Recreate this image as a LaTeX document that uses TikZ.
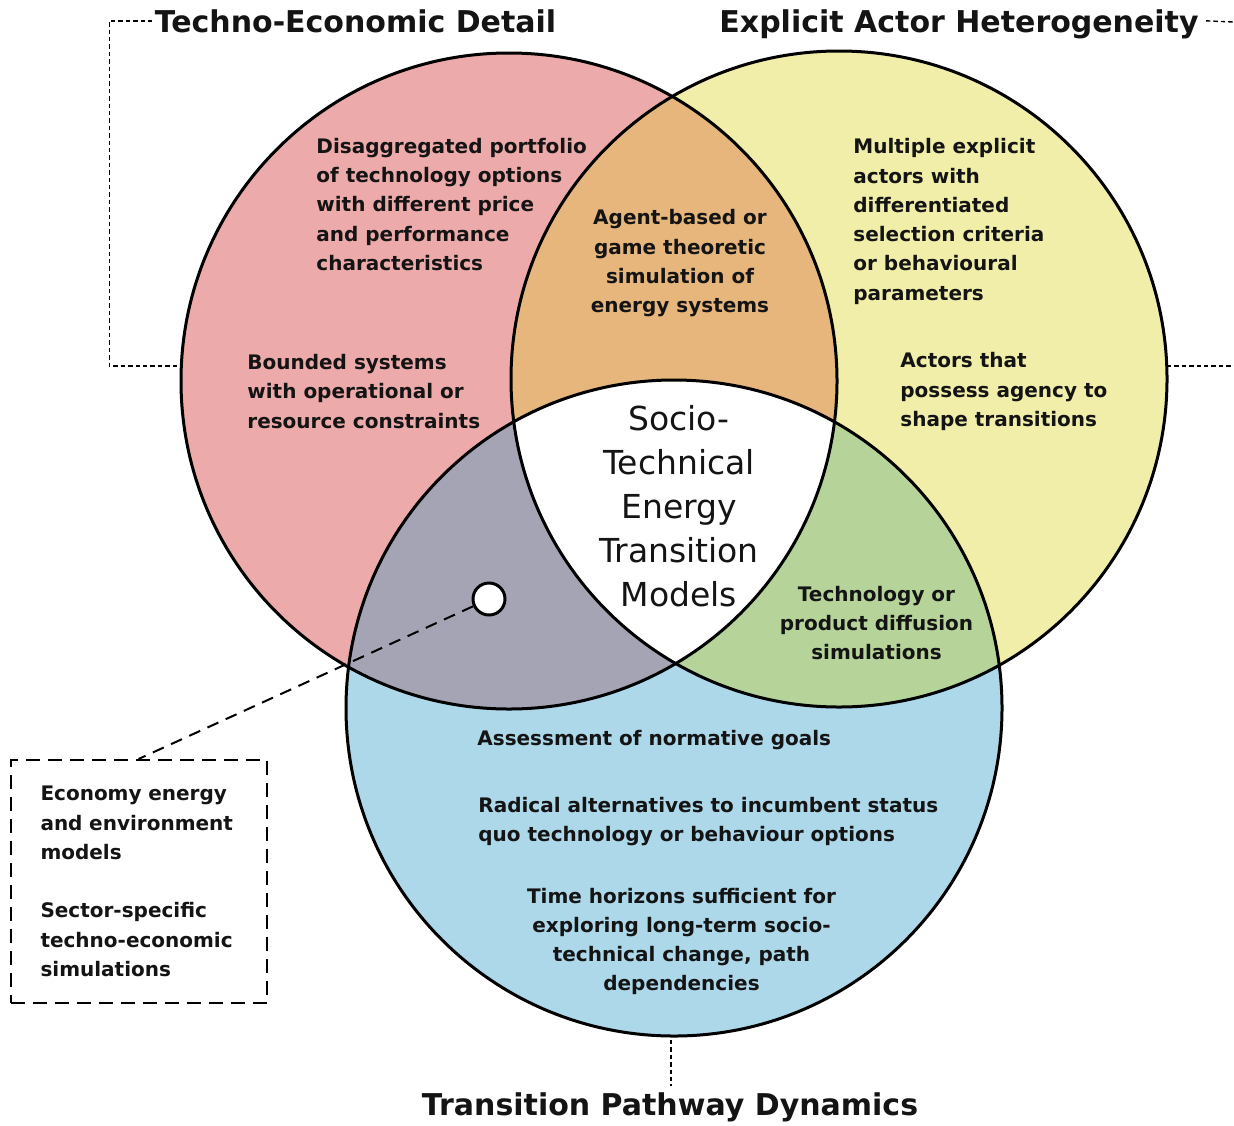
\documentclass[tikz,border=0pt]{standalone}
\usepackage{fontspec}
\setmainfont{DejaVu Sans}
\definecolor{redfill}{HTML}{EDAAAA}
\definecolor{yelfill}{HTML}{F1EEAA}
\definecolor{bluefill}{HTML}{ADD8EA}
\definecolor{orangefill}{HTML}{E6B67C}
\definecolor{greyfill}{HTML}{A4A4B4}
\definecolor{greenfill}{HTML}{B6D49A}
\definecolor{ink}{HTML}{141414}
\def\vennr{164pt}
\begin{document}
\begin{tikzpicture}[x=0.5pt,y=-0.5pt,
  body/.style={font=\bfseries\fontsize{10}{14.65}\selectfont, inner sep=0pt, text=ink},
  lefttext/.style={body, align=left, anchor=west},
  midtext/.style={body, align=center},
  core/.style={font=\fontsize{16.5}{22}\selectfont, inner sep=0pt, align=center, text=ink},
  heading/.style={font=\bfseries\fontsize{15}{18}\selectfont, inner sep=0pt, anchor=base, text=ink},
  outline/.style={draw=black, line width=1.5pt},
  guide/.style={draw=black, line width=0.7pt, dash pattern=on 2.2pt off 1.5pt},
  leader/.style={draw=black, line width=1pt, dash pattern=on 6pt off 4pt},
]
\useasboundingbox (0,0) rectangle (1234,1125);
\fill[white] (0,0) rectangle (1234,1125);

% circle centres
\coordinate (cr) at (509,381);
\coordinate (cy) at (839,379);
\coordinate (cb) at (674,708);

% base fills
\fill[redfill] (cr) circle[radius=\vennr];
\fill[yelfill] (cy) circle[radius=\vennr];
\fill[bluefill] (cb) circle[radius=\vennr];

% pairwise overlaps
\begin{scope}
  \clip (cr) circle[radius=\vennr];
  \fill[orangefill] (cy) circle[radius=\vennr];
  \fill[greyfill] (cb) circle[radius=\vennr];
\end{scope}
\begin{scope}
  \clip (cy) circle[radius=\vennr];
  \fill[greenfill] (cb) circle[radius=\vennr];
\end{scope}
% triple overlap
\begin{scope}
  \clip (cr) circle[radius=\vennr];
  \clip (cy) circle[radius=\vennr];
  \fill[white] (cb) circle[radius=\vennr];
\end{scope}

% outlines
\draw[outline] (cr) circle[radius=\vennr];
\draw[outline] (cy) circle[radius=\vennr];
\draw[outline] (cb) circle[radius=\vennr];

% region texts
\node[lefttext] (tech1) at (316,204.5) {Disaggregated portfolio\\of technology options\\with different price\\and performance\\characteristics};
\node[lefttext] (tech2) at (247,391.5) {Bounded systems\\with operational or\\resource constraints};
\node[midtext] (agent) at (680,263.5) {Agent-based or\\game theoretic\\simulation of\\energy systems};
\node[lefttext] (actor1) at (853,221.5) {Multiple explicit\\actors with\\differentiated\\selection criteria\\or behavioural\\parameters};
\node[lefttext] (actor2) at (900,391.5) {Actors that\\possess agency to\\shape transitions};
\node[core] (core) at (679,506) {Socio-\\Technical\\Energy\\Transition\\Models};
\node[midtext] (diff) at (876.5,623) {Technology or\\product diffusion\\simulations};
\node[lefttext] (path1) at (477,740) {Assessment of normative goals};
\node[lefttext] (path2) at (478,821.5) {Radical alternatives to incumbent status\\quo technology or behaviour options};
\node[midtext] (path3) at (681.5,941.5) {Time horizons sufficient for\\exploring long-term socio-\\technical change, path\\dependencies};

% headings
\node[heading] (ted) at (355.5,32) {Techno-Economic Detail};
\node[heading] (eah) at (959,32) {Explicit Actor Heterogeneity};
\node[heading] (tpd) at (670,1115) {Transition Pathway Dynamics};

% heading guides
\coordinate (redtip) at (182,366);
\coordinate (yeltip) at (1167,366);
\coordinate (rightup) at (1234,22);
\coordinate (rightdown) at (1234,366);
\coordinate (bluetip) at (671,1040);
\draw[guide] ([xshift=-1pt]ted.west) -- ++(-43,0) |- (redtip);
\draw[guide] ([xshift=3.5pt,yshift=1.5pt]eah.east) -- (rightup);
\draw[guide] (yeltip) -- (rightdown);
\draw[guide] (bluetip) -- ([shift={(0.5pt,3pt)}]tpd.north);

% marker and callout box
\node[circle, draw=black, line width=1.5pt, fill=white, minimum size=16pt, inner sep=0pt] (dot) at (489,599) {};
\node[body, align=left, draw=black, line width=1pt, dash pattern=on 7pt off 4pt,
      minimum width=126.5pt, minimum height=121.5pt, text width=98pt, inner xsep=15pt]
  (callout) at (138.5,881.5) {Economy energy\\and environment\\models\\[14.65pt]Sector-specific\\techno-economic\\simulations};
\draw[leader] (dot) -- (callout.north);
\end{tikzpicture}
\end{document}
